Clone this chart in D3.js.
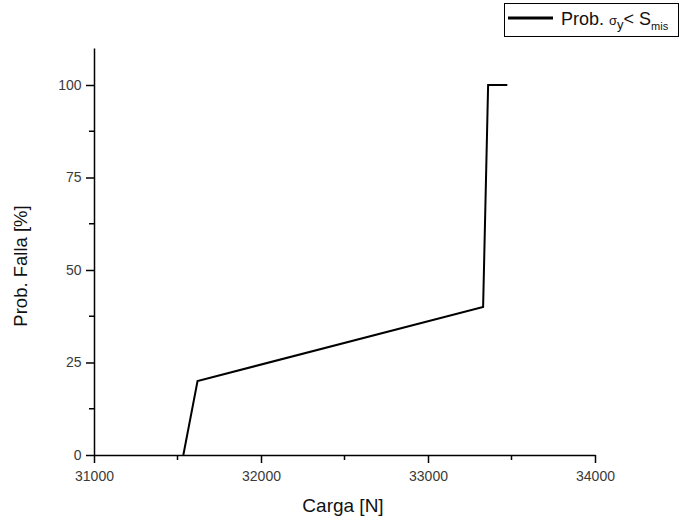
<!DOCTYPE html>
<html>
  <head>
    <style>
      body { margin: 0; background: #fff; }
      svg { font-family: "Liberation Sans", Arial, sans-serif; }
    </style>
  </head>
  <body>
    <svg id="chart" width="680" height="522"></svg>
    <script src="https://d3js.org/d3.v7.min.js"></script>
    <script>
      // values
      const carga = [31535, 31620, 33330, 33360, 33475];
      const probFalla = [0, 20, 40, 100, 100];
      const xTicks = [31000, 32000, 33000, 34000];
      const xMinor = [31500, 32500, 33500];
      const yTicks = [0, 25, 50, 75, 100];
      const yMinor = [12.5, 37.5, 62.5, 87.5];

      const svg = d3.select("#chart");
      const x = d3.scaleLinear().domain([31000, 34000]).range([94, 595]);
      const y = d3.scaleLinear().domain([0, 110]).range([455, 48]);

      // x axis
      const xAxis = svg.append("g").attr("transform", "translate(0,455)");
      xAxis.call(d3.axisBottom(x).tickValues(xTicks).tickSize(8).tickSizeOuter(0)
        .tickFormat(d3.format("d")));
      xAxis.append("g").selectAll("line").data(xMinor).join("line")
        .attr("x1", d => x(d)).attr("x2", d => x(d))
        .attr("y1", 0).attr("y2", 5);

      // y axis
      const yAxis = svg.append("g").attr("transform", "translate(94,0)");
      yAxis.call(d3.axisLeft(y).tickValues(yTicks).tickSize(8).tickSizeOuter(0));
      yAxis.append("g").selectAll("line").data(yMinor).join("line")
        .attr("y1", d => y(d)).attr("y2", d => y(d))
        .attr("x1", 0).attr("x2", -5);

      svg.selectAll(".domain, line").attr("stroke", "#000").attr("stroke-width", 1.5);
      xAxis.selectAll(".tick text").attr("font-size", 14).attr("fill", "#3a3a3a").attr("dy", "1.05em");
      yAxis.selectAll(".tick text").attr("font-size", 14).attr("fill", "#3a3a3a").attr("dx", "-0.1em");
      svg.selectAll(".tick text").attr("font-family", "Liberation Sans, Arial, sans-serif");

      // titles
      svg.append("text").attr("x", 343).attr("y", 512).attr("text-anchor", "middle")
        .attr("font-size", 19).attr("fill", "#111").text("Carga [N]");
      svg.append("text").attr("transform", "translate(27,266) rotate(-90)")
        .attr("text-anchor", "middle").attr("font-size", 18.5).attr("fill", "#111")
        .text("Prob. Falla [%]");

      // data line
      const line = d3.line().x((d, i) => x(carga[i])).y(d => y(d));
      svg.append("path").datum(probFalla).attr("d", line)
        .attr("fill", "none").attr("stroke", "#000").attr("stroke-width", 2);

      // legend
      const lg = svg.append("g");
      lg.append("rect").attr("x", 504.5).attr("y", 3.5).attr("width", 174).attr("height", 33)
        .attr("fill", "#fff").attr("stroke", "#000").attr("stroke-width", 1);
      lg.append("line").attr("x1", 508).attr("x2", 553).attr("y1", 18).attr("y2", 18)
        .attr("stroke", "#000").attr("stroke-width", 3);
      const t = lg.append("text").attr("x", 561).attr("y", 25).attr("font-size", 18).attr("fill", "#111");
      t.append("tspan").text("Prob. ");
      t.append("tspan").attr("font-size", 13).text("σ");
      t.append("tspan").attr("font-size", 13).attr("dy", 4).text("y");
      t.append("tspan").attr("dy", -4).text("< S");
      t.append("tspan").attr("font-size", 11).attr("dy", 5).text("mis");
    </script>
  </body>
</html>
